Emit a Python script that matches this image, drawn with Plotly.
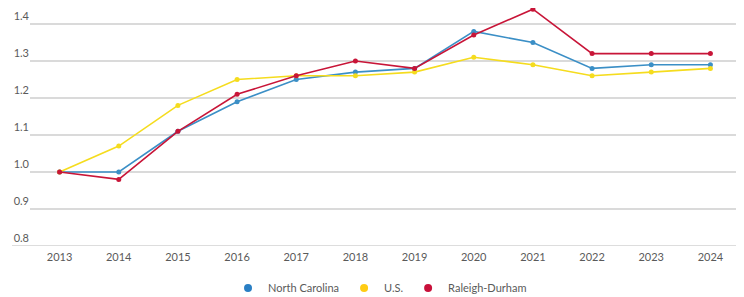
import plotly.graph_objects as go

years = ["2013", "2014", "2015", "2016", "2017", "2018", "2019", "2020", "2021", "2022", "2023", "2024"]
north_carolina = [1.00, 1.00, 1.11, 1.19, 1.25, 1.27, 1.28, 1.38, 1.35, 1.28, 1.29, 1.29]
us = [1.00, 1.07, 1.18, 1.25, 1.26, 1.26, 1.27, 1.31, 1.29, 1.26, 1.27, 1.28]
raleigh_durham = [1.00, 0.98, 1.11, 1.21, 1.26, 1.30, 1.28, 1.37, 1.44, 1.32, 1.32, 1.32]
y_ticks = [0.8, 0.9, 1.0, 1.1, 1.2, 1.3, 1.4]

series = [
    ("North Carolina", north_carolina, "#3b8fc6", "#2a7fc4"),
    ("U.S.", us, "#f5dc1e", "#ffcc14"),
    ("Raleigh-Durham", raleigh_durham, "#c81538", "#c8103a"),
]

fig = go.Figure()
for name, vals, col, lcol in series:
    fig.add_trace(go.Scatter(
        x=years, y=vals, name=name, mode="lines+markers",
        line=dict(color=col, width=1.6),
        marker=dict(color=col, size=5),
        showlegend=False, cliponaxis=False,
    ))
for name, vals, col, lcol in series:
    fig.add_trace(go.Scatter(
        x=[None], y=[None], name=name, mode="markers",
        marker=dict(color=lcol, size=8),
        showlegend=True,
    ))

grey = "#5a5a5a"
fam = "Lato, Open Sans, sans-serif"
fig.update_layout(
    width=736, height=289,
    margin=dict(l=22, r=4, t=0, b=51, autoexpand=False),
    paper_bgcolor="white", plot_bgcolor="white",
    font=dict(family=fam, size=11, color=grey),
    showlegend=True,
    legend=dict(orientation="h", x=0.493, xanchor="center",
                y=-0.176, yanchor="middle",
                font=dict(family=fam, size=11, color=grey), itemwidth=30,
                tracegroupgap=0),
    xaxis=dict(type="category", range=[-0.5, len(years) - 0.5], automargin=False,
               showgrid=False, zeroline=False, showline=False,
               ticks="", ticklabelstandoff=3,
               tickfont=dict(family=fam, size=11, color=grey)),
    yaxis=dict(range=[0.8, 1.4432], automargin=False,
               tickvals=y_ticks, ticktext=[f"{v:.1f}" for v in y_ticks],
               showgrid=True, gridcolor="#dadada", gridwidth=1.5, zeroline=False,
               showline=False, ticks="", ticklabelposition="outside top",
               tickfont=dict(family=fam, size=11, color=grey)),
    shapes=[dict(type="line", xref="paper", yref="y", x0=-0.0254, x1=1.0,
                 y0=y_ticks[0], y1=y_ticks[0], line=dict(color="#d2d2d2", width=1.5),
                 layer="below")],
)
fig.write_html("out.html")
